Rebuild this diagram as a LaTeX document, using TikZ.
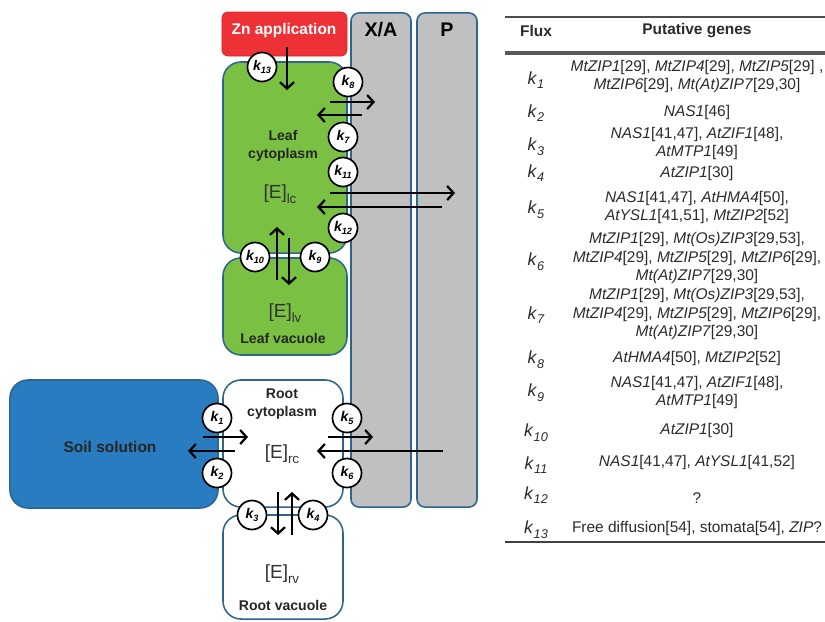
\documentclass[tikz,border=0pt]{standalone}
\usepackage{fontspec}
\setmainfont{Liberation Sans}
\usepackage{tikz}
\usetikzlibrary{arrows.meta}
\definecolor{memblue}{HTML}{2E6590}
\definecolor{znred}{HTML}{EE3136}
\definecolor{leafgreen}{HTML}{7AC143}
\definecolor{soilblue}{HTML}{2A7CC0}
\definecolor{vesselgray}{HTML}{C0C0C0}
\definecolor{tabletext}{HTML}{2B2B2B}

\newcommand{\kcirc}[1]{k\raisebox{-0.45ex}{\fontsize{6.5}{6.5}\selectfont #1}}
\newcommand{\ktab}[1]{\textit{k}\raisebox{-0.5ex}{\fontsize{9}{9}\selectfont\itshape #1}}
\newcommand{\conc}[1]{[E]\raisebox{-0.5ex}{\fontsize{9.5}{9.5}\selectfont #1}}

\tikzset{
    compartment/.style={draw=memblue, line width=1.1pt, rounded corners=0.45cm, inner sep=0pt},
    vessel/.style={compartment, fill=vesselgray, rounded corners=0.2cm, minimum width=1.5cm, minimum height=12.35cm},
    transporter/.style={circle, draw=black, fill=white, line width=1.2pt, minimum size=0.725cm, inner sep=0pt, font=\fontsize{10}{10}\selectfont\bfseries\itshape},
    flux/.style={-{Straight Barb[length=4.5pt, width=10pt]}, line width=1.6pt},
    celltext/.style={font=\fontsize{10}{12.5}\selectfont\bfseries, text=black!85, align=center},
    conctext/.style={font=\fontsize{13.5}{13.5}\selectfont, text=black!80},
    tabhead/.style={font=\fontsize{11}{13}\selectfont\bfseries, text=tabletext},
    tabk/.style={font=\fontsize{12.5}{13}\selectfont, text=tabletext},
    tabgenes/.style={font=\fontsize{11}{13}\selectfont, text=tabletext, align=center}
}

\begin{document}
\begin{tikzpicture}[x=0.025cm, y=-0.025cm]
    \useasboundingbox (0,0) rectangle (825,621);

    % xylem / phloem columns
    \node[vessel] (xa) at (381,260) {};
    \node[vessel] (phl) at (447,260) {};
    \node[font=\fontsize{14}{14}\selectfont\bfseries] (xatext) at (381,30) {X/A};
    \node[font=\fontsize{14}{14}\selectfont\bfseries] (phltext) at (447,30) {P};

    % leaf
    \node[fill=znred, draw=znred!85!black, line width=0.5pt, rounded corners=0.15cm, minimum width=3.125cm, minimum height=1.1cm] (zn) at (284.5,34) {};
    \node[font=\fontsize{11}{11}\selectfont\bfseries, text=white] (zntext) at (284,30) {Zn application};
    \node[compartment, fill=leafgreen, minimum width=3.1cm, minimum height=4.775cm] (lc) at (285,157.5) {};
    \node[compartment, fill=leafgreen, minimum width=3.1cm, minimum height=2.425cm] (lv) at (285,306.5) {};
    \node[celltext] (lctext) at (283,146) {Leaf\\cytoplasm};
    \node[conctext] (lcconc) at (280,194) {\conc{lc}};
    \node[conctext] (lvconc) at (285,313) {\conc{lv}};
    \node[celltext] (lvtext) at (283,338) {Leaf vacuole};

    % root
    \node[compartment, fill=soilblue, minimum width=5.2cm, minimum height=3.2cm] (soil) at (114,444) {};
    \node[compartment, fill=white, minimum width=3cm, minimum height=3.175cm] (rc) at (283,443.5) {};
    \node[compartment, fill=white, minimum width=3cm, minimum height=2.6cm] (rv) at (283,567) {};
    \node[font=\fontsize{11}{11}\selectfont\bfseries, text=black!85] (soiltext) at (110,447) {Soil solution};
    \node[celltext] (rctext) at (282,404) {Root\\cytoplasm};
    \node[conctext] (rcconc) at (282,454) {\conc{rc}};
    \node[conctext] (rvconc) at (282,574) {\conc{rv}};
    \node[celltext] (rvtext) at (283,605) {Root vacuole};

    % arrow ends
    \coordinate (zntop) at (287,47);   \coordinate (znbot) at (287,90);
    \coordinate (l8a) at (330,102);    \coordinate (l8b) at (375,102);
    \coordinate (l7a) at (362,115);    \coordinate (l7b) at (317,115);
    \coordinate (l11a) at (330,193);   \coordinate (l11b) at (455,193);
    \coordinate (l12a) at (442,207);   \coordinate (l12b) at (317,207);
    \coordinate (l10a) at (277,280);   \coordinate (l10b) at (277,227);
    \coordinate (l9a) at (289,238);    \coordinate (l9b) at (289,285);
    \coordinate (r1a) at (203,437);    \coordinate (r1b) at (248,437);
    \coordinate (r2a) at (235,451);    \coordinate (r2b) at (188,451);
    \coordinate (r5a) at (328,437);    \coordinate (r5b) at (373,437);
    \coordinate (r6a) at (443,451);    \coordinate (r6b) at (317,451);
    \coordinate (r3a) at (278,492);    \coordinate (r3b) at (278,535);
    \coordinate (r4a) at (292,535);    \coordinate (r4b) at (292,492);

    \draw[flux] (zntop) -- (znbot);
    \draw[flux] (l8a) -- (l8b);
    \draw[flux] (l7a) -- (l7b);
    \draw[flux] (l11a) -- (l11b);
    \draw[flux] (l12a) -- (l12b);
    \draw[flux] (l10a) -- (l10b);
    \draw[flux] (l9a) -- (l9b);
    \draw[flux] (r1a) -- (r1b);
    \draw[flux] (r2a) -- (r2b);
    \draw[flux] (r5a) -- (r5b);
    \draw[flux] (r6a) -- (r6b);
    \draw[flux] (r3a) -- (r3b);
    \draw[flux] (r4a) -- (r4b);

    % transporters
    \node[transporter] (k13) at (262,67) {\kcirc{13}};
    \node[transporter] (k8) at (348,82) {\kcirc{8}};
    \node[transporter] (k7) at (343,137) {\kcirc{7}};
    \node[transporter] (k11) at (343,172) {\kcirc{11}};
    \node[transporter] (k12) at (343,228) {\kcirc{12}};
    \node[transporter] (k10) at (255,257) {\kcirc{10}};
    \node[transporter] (k9) at (315,257) {\kcirc{9}};
    \node[transporter] (k1) at (217,418) {\kcirc{1}};
    \node[transporter] (k2) at (217,473) {\kcirc{2}};
    \node[transporter] (k5) at (347,418) {\kcirc{5}};
    \node[transporter] (k6) at (347,473) {\kcirc{6}};
    \node[transporter] (k3) at (252,515) {\kcirc{3}};
    \node[transporter] (k4) at (313,515) {\kcirc{4}};

    % table
    \draw[line width=1.3pt, black!70] (505,17) -- (825,17);
    \draw[line width=2.2pt, black!65] (505,53) -- (825,53);
    \draw[line width=1.5pt, black!75] (505,542) -- (825,542);
    \node[tabhead] (fluxhead) at (536,31) {Flux};
    \node[tabhead] (geneshead) at (697,31) {Putative genes};
    \foreach \i/\ky/\gy/\genes in {
        1/80/76.5/{\textit{MtZIP1}[29], \textit{MtZIP4}[29], \textit{MtZIP5}[29] ,\\\textit{MtZIP6}[29], \textit{Mt(At)ZIP7}[29,30]},
        2/113/112/{\textit{NAS1}[46]},
        3/147/143.5/{\textit{NAS1}[41,47], \textit{AtZIF1}[48],\\\textit{AtMTP1}[49]},
        4/173/173/{\textit{AtZIP1}[30]},
        5/210/207.5/{\textit{NAS1}[41,47], \textit{AtHMA4}[50],\\\textit{AtYSL1}[41,51], \textit{MtZIP2}[52]},
        6/262/258/{\textit{MtZIP1}[29], \textit{Mt(Os)ZIP3}[29,53],\\\textit{MtZIP4}[29], \textit{MtZIP5}[29], \textit{MtZIP6}[29],\\\textit{Mt(At)ZIP7}[29,30]},
        7/315/314/{\textit{MtZIP1}[29], \textit{Mt(Os)ZIP3}[29,53],\\\textit{MtZIP4}[29], \textit{MtZIP5}[29], \textit{MtZIP6}[29],\\\textit{Mt(At)ZIP7}[29,30]},
        8/360/358/{\textit{AtHMA4}[50], \textit{MtZIP2}[52]},
        9/393/392.5/{\textit{NAS1}[41,47], \textit{AtZIF1}[48],\\\textit{AtMTP1}[49]},
        10/433/430/{\textit{AtZIP1}[30]},
        11/465/462/{\textit{NAS1}[41,47], \textit{AtYSL1}[41,52]},
        12/495/498/{?},
        13/530/528/{Free diffusion[54], stomata[54], \textit{ZIP}?}} {
        \node[tabk] (flux\i) at (536,\ky) {\ktab{\i}};
        \node[tabgenes] (genes\i) at (697,\gy) {\genes};
    }
\end{tikzpicture}
\end{document}
